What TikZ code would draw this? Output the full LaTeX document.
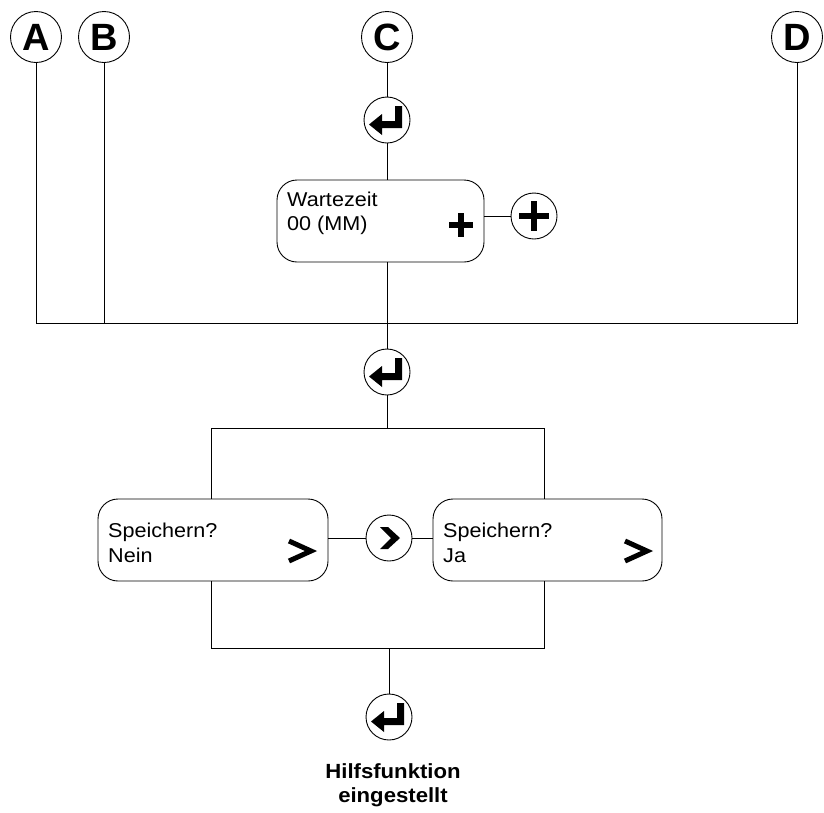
\documentclass[tikz,border=0pt]{standalone}
\usepackage{fontspec}
\setmainfont{Liberation Sans}
\newfontfamily\boxfont[FakeStretch=1.08]{Liberation Sans}
\usetikzlibrary{calc}
\tikzset{
  conn/.style={line width=0.9pt},
  letterbtn/.style={circle, draw, line width=0.9pt, minimum size=51pt, inner sep=0pt, font=\fontsize{38}{38}\selectfont\bfseries},
  btn/.style={circle, draw, line width=0.9pt, minimum size=46pt, inner sep=0pt},
  enterbtn/.style={btn, path picture={
      \fill[shift={(path picture bounding box.center)}]
        (8,-14) -- (15,-14) -- (15,8) -- (-5,8) -- (-5,15) -- (-18,4.5) -- (-5,-6) -- (-5,1) -- (8,1) -- cycle;}},
  plusbtn/.style={btn, path picture={
      \draw[line width=6.5pt, shift={(path picture bounding box.center)}]
        (-15,0) -- (15,0) (0,-15) -- (0,15);}},
  nextbtn/.style={btn, path picture={
      \fill[shift={(path picture bounding box.center)}]
        (-9,-11) -- (-1,-11) -- (11,0) -- (-1,11) -- (-9,11) -- (2,0) -- cycle;}},
  menubox/.style={draw, line width=0.9pt, rounded corners=20pt, minimum width=#1, minimum height=82pt},
  boxtext/.style={anchor=base west, inner sep=0pt, font=\boxfont\fontsize{20}{20}\selectfont},
  chev/.style={line width=5pt, miter limit=10},
  plussym/.style={line width=5.5pt},
  endtext/.style={align=center, inner sep=0pt, font=\boxfont\fontsize{20.5}{24}\selectfont\bfseries}
}
\begin{document}
\begin{tikzpicture}[x=1pt,y=-1pt]
\useasboundingbox (0,0) rectangle (824,812);

% letter circles
\node[letterbtn] (A) at (36,37) {A};
\node[letterbtn] (B) at (104,37) {B};
\node[letterbtn] (C) at (387,37) {C};
\node[letterbtn] (D) at (797,37) {D};

% enter 1 and Wartezeit box
\node[enterbtn] (enter1) at (387,120) {};
\node[menubox=207pt] (box1) at (380.5,221) {};
\node[boxtext] (t1a) at (287,206) {Wartezeit};
\node[boxtext] (t1b) at (287,230) {00 (MM)};
\draw[plussym] (449,225) -- (473,225) (461,213) -- (461,237);
\node[plusbtn] (plus) at (534,216) {};

\draw[conn] (C) -- (enter1);
\draw[conn] (enter1) -- (enter1 |- box1.north);
\draw[conn] (plus -| box1.east) -- (plus);

% main horizontal bus
\coordinate (jA) at (36,323);
\coordinate (jB) at (104,323);
\coordinate (jD) at (797,323);
\draw[conn] (A) -- (jA) -- (jD) -- (D);
\draw[conn] (B) -- (jB);

\node[enterbtn] (enter2) at (387,372) {};
\draw[conn] (enter2 |- box1.south) -- (enter2);

% split
\coordinate (sC) at (387,428);
\coordinate (sL) at (211,428);
\coordinate (sR) at (544,428);
\draw[conn] (enter2) -- (sC);
\draw[conn] (sL) -- (sR);

\node[menubox=230pt] (box2) at (213,540) {};
\node[boxtext] (t2a) at (108,537) {Speichern?};
\node[boxtext] (t2b) at (108,562) {Nein};
\draw[chev] (289,541) -- (311,551) -- (289,561);

\node[menubox=229pt] (box3) at (547.5,540) {};
\node[boxtext] (t3a) at (443,537) {Speichern?};
\node[boxtext] (t3b) at (443,562) {Ja};
\draw[chev] (625,541) -- (647,551) -- (625,561);

\node[nextbtn] (next) at (389,538) {};
\draw[conn] (sL) -- (sL |- box2.north);
\draw[conn] (sR) -- (sR |- box3.north);
\draw[conn] (next -| box2.east) -- (next);
\draw[conn] (next) -- (next -| box3.west);

% join
\coordinate (bL) at (211,648);
\coordinate (bR) at (544,648);
\draw[conn] (bL |- box2.south) -- (bL) -- (bR) -- (bR |- box3.south);

\node[enterbtn] (enter3) at (389,717) {};
\draw[conn] (enter3 |- bL) -- (enter3);

\node[endtext] (endt) at (393,785) {Hilfsfunktion\\eingestellt};
\end{tikzpicture}
\end{document}
